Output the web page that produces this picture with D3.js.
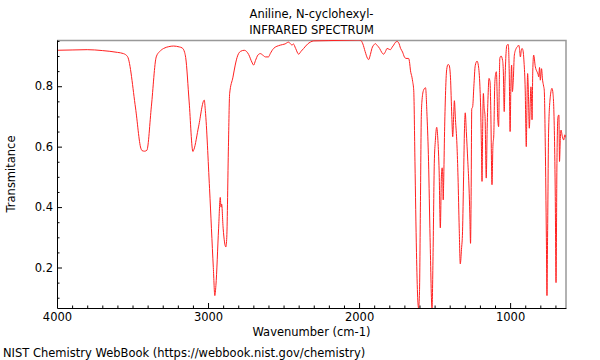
<!DOCTYPE html>
<html>
<head>
<meta charset="utf-8">
<script src="https://cdn.jsdelivr.net/npm/d3@7"></script>
<style>
  body { margin: 0; background: #fff; }
  svg { display: block; font-family: "DejaVu Sans", sans-serif; }
</style>
</head>
<body>
<svg id="chart" width="600" height="360"></svg>
<script>
const titleLines = ["Aniline, N-cyclohexyl-", "INFRARED SPECTRUM"];
const xLabel = "Wavenumber (cm-1)";
const yLabel = "Transmitance";
const footer = "NIST Chemistry WebBook (https://webbook.nist.gov/chemistry)";

const xMajorTicks = [4000, 3000, 2000, 1000];
const yMajorTicks = [0.2, 0.4, 0.6, 0.8];

// wavenumber (cm-1)
const wavenumbers = [
  4000, 3900, 3800, 3700, 3600, 3560, 3533, 3480, 3445, 3437, 3420, 3405, 3375, 3343, 3320, 3294,
  3260, 3228, 3190, 3172, 3155, 3148, 3125, 3100, 3094, 3062, 3025, 3018, 2990, 2965, 2955, 2948,
  2930, 2919, 2914, 2910, 2900, 2882, 2876, 2865, 2857, 2835, 2820, 2808, 2786, 2760, 2731, 2710,
  2698, 2686, 2670, 2654, 2635, 2620, 2600, 2588, 2566, 2522, 2490, 2467, 2450, 2444, 2435, 2420,
  2400, 2385, 2367, 2340, 2323, 2300, 2200, 2100, 2000, 1990, 1975, 1960, 1945, 1937, 1925, 1915,
  1900, 1893, 1880, 1864, 1850, 1838, 1825, 1815, 1800, 1793, 1780, 1771, 1760, 1748, 1738, 1725,
  1712, 1700, 1690, 1672, 1665, 1660, 1650, 1645, 1638, 1630, 1620, 1612, 1606, 1600, 1594, 1588,
  1583, 1573, 1560, 1550, 1540, 1530, 1517, 1510, 1502, 1495, 1486, 1478, 1470, 1462, 1455, 1450,
  1446, 1443, 1440, 1434, 1428, 1420, 1411, 1404, 1395, 1386, 1380, 1374, 1369, 1362, 1352, 1345,
  1337, 1330, 1322, 1315, 1308, 1302, 1297, 1290, 1280, 1272, 1267, 1262, 1258, 1254, 1248, 1240,
  1231, 1219, 1210, 1200, 1196, 1190, 1186, 1182, 1177, 1172, 1166, 1158, 1152, 1145, 1140, 1133,
  1128, 1120, 1114, 1108, 1102, 1096, 1091, 1085, 1083, 1076, 1072, 1068, 1060, 1050, 1045, 1039,
  1034, 1028, 1021, 1012, 1006, 1000, 995, 990, 985, 979, 972, 960, 950, 944, 938, 932,
  926, 921, 915, 908, 900, 893, 889, 884, 879, 873, 862, 858, 855, 850, 844, 833,
  822, 815, 811, 805, 800, 792, 785, 778, 774, 767, 760, 756, 752, 745, 734, 723,
  716, 712, 701, 696, 690, 683, 677, 673, 668, 663, 654, 645, 638, 630
];

// transmittance at each wavenumber
const transmittance = [
  0.919, 0.920, 0.921, 0.918, 0.912, 0.908, 0.898, 0.728, 0.595, 0.587, 0.585, 0.588, 0.734, 0.897, 0.915, 0.925,
  0.931, 0.933, 0.930, 0.927, 0.912, 0.895, 0.748, 0.584, 0.590, 0.668, 0.754, 0.720, 0.461, 0.200, 0.107, 0.140,
  0.330, 0.432, 0.400, 0.410, 0.330, 0.268, 0.300, 0.600, 0.775, 0.830, 0.870, 0.895, 0.915, 0.919, 0.905, 0.880,
  0.870, 0.885, 0.903, 0.908, 0.902, 0.897, 0.897, 0.908, 0.925, 0.936, 0.940, 0.946, 0.938, 0.936, 0.940, 0.925,
  0.906, 0.915, 0.925, 0.940, 0.946, 0.950, 0.951, 0.952, 0.953, 0.952, 0.940, 0.915, 0.893, 0.888, 0.905, 0.925,
  0.938, 0.941, 0.935, 0.925, 0.912, 0.906, 0.915, 0.925, 0.922, 0.921, 0.930, 0.936, 0.945, 0.948, 0.944, 0.925,
  0.913, 0.897, 0.892, 0.892, 0.876, 0.853, 0.830, 0.815, 0.785, 0.550, 0.250, 0.100, 0.066, 0.120, 0.400, 0.700,
  0.755, 0.787, 0.795, 0.700, 0.550, 0.300, 0.066, 0.250, 0.545, 0.620, 0.664, 0.620, 0.520, 0.331, 0.500, 0.530,
  0.500, 0.424, 0.480, 0.650, 0.770, 0.855, 0.872, 0.870, 0.830, 0.700, 0.633, 0.700, 0.752, 0.690, 0.606, 0.500,
  0.330, 0.212, 0.260, 0.320, 0.500, 0.660, 0.712, 0.650, 0.550, 0.463, 0.380, 0.280, 0.450, 0.725, 0.732, 0.800,
  0.868, 0.883, 0.868, 0.800, 0.745, 0.600, 0.485, 0.650, 0.776, 0.730, 0.700, 0.496, 0.660, 0.780, 0.826, 0.815,
  0.720, 0.474, 0.600, 0.640, 0.800, 0.840, 0.848, 0.750, 0.705, 0.666, 0.800, 0.893, 0.900, 0.886, 0.850, 0.716,
  0.815, 0.900, 0.936, 0.938, 0.850, 0.650, 0.800, 0.870, 0.782, 0.820, 0.903, 0.925, 0.932, 0.936, 0.925, 0.897,
  0.918, 0.925, 0.919, 0.880, 0.787, 0.600, 0.720, 0.842, 0.780, 0.661, 0.798, 0.750, 0.689, 0.850, 0.903, 0.864,
  0.848, 0.840, 0.831, 0.862, 0.820, 0.858, 0.820, 0.800, 0.787, 0.600, 0.300, 0.107, 0.300, 0.655, 0.765, 0.793,
  0.775, 0.743, 0.435, 0.150, 0.545, 0.699, 0.705, 0.551, 0.620, 0.655, 0.633, 0.622, 0.639, 0.630
];

const margin = {top: 40, left: 57, right: 34, bottom: 52};
const width = 600, height = 360;
const plotW = width - margin.left - margin.right;
const plotH = height - margin.top - margin.bottom;
const fontSize = 11.5;

const svg = d3.select("#chart");

const x = d3.scaleLinear().domain([4000, 630]).range([0, plotW]);
const y = d3.scaleLinear().domain([0.066, 0.953]).range([plotH, 0]);

const points = wavenumbers.map((w, i) => ({w, t: transmittance[i]}));

svg.append("defs").append("clipPath")
  .attr("id", "plot-clip")
  .append("rect")
  .attr("width", plotW)
  .attr("height", plotH);

const g = svg.append("g")
  .attr("transform", `translate(${margin.left},${margin.top})`);

// top and right frame
g.append("path")
  .attr("d", `M0,0.5H${plotW}V${plotH}`)
  .attr("fill", "none")
  .attr("stroke", "#999")
  .attr("stroke-width", 1.5);

g.append("path")
  .datum(points)
  .attr("clip-path", "url(#plot-clip)")
  .attr("fill", "none")
  .attr("stroke", "#ff2020")
  .attr("stroke-width", 1)
  .attr("d", d3.line()
    .x(d => x(d.w))
    .y(d => y(d.t))
    .curve(d3.curveMonotoneX));

// minor ticks
const xMinor = d3.range(700, 4000, 100).filter(v => !xMajorTicks.includes(v));
const yMinor = d3.range(0.1, 0.951, 0.05).filter(v => !yMajorTicks.some(m => Math.abs(m - v) < 1e-6));

g.append("g")
  .attr("transform", `translate(0,${plotH})`)
  .call(d3.axisBottom(x).tickValues(xMinor).tickSize(-2.5).tickFormat(""))
  .call(a => a.select(".domain").remove());

g.append("g")
  .call(d3.axisLeft(y).tickValues(yMinor).tickSize(-2.5).tickFormat(""))
  .call(a => a.select(".domain").remove());

const xAxis = g.append("g")
  .attr("transform", `translate(0,${plotH})`)
  .call(d3.axisBottom(x).tickValues(xMajorTicks).tickSize(-5).tickSizeOuter(0).tickPadding(5).tickFormat(d3.format("d")));

const yAxis = g.append("g")
  .call(d3.axisLeft(y).tickValues(yMajorTicks).tickSize(-5).tickSizeOuter(0).tickPadding(4).tickFormat(d3.format(".1f")));

[xAxis, yAxis].forEach(a => {
  a.selectAll("text").attr("font-size", fontSize).attr("font-family", "DejaVu Sans").attr("fill", "#000");
  a.attr("font-size", fontSize);
});

svg.selectAll(".tick line").attr("stroke", "#000");

// texts
svg.selectAll("text.title")
  .data(titleLines)
  .join("text")
  .attr("class", "title")
  .attr("x", margin.left + plotW / 2)
  .attr("y", (d, i) => 18 + i * 16)
  .attr("text-anchor", "middle")
  .attr("font-size", fontSize)
  .text(d => d);

svg.append("text")
  .attr("x", margin.left + plotW / 2)
  .attr("y", 336)
  .attr("text-anchor", "middle")
  .attr("font-size", fontSize)
  .text(xLabel);

svg.append("text")
  .attr("transform", `translate(15,${margin.top + plotH / 2}) rotate(-90)`)
  .attr("text-anchor", "middle")
  .attr("font-size", fontSize)
  .text(yLabel);

svg.append("text")
  .attr("x", 3)
  .attr("y", 357)
  .attr("font-size", fontSize)
  .text(footer);
</script>
</body>
</html>
